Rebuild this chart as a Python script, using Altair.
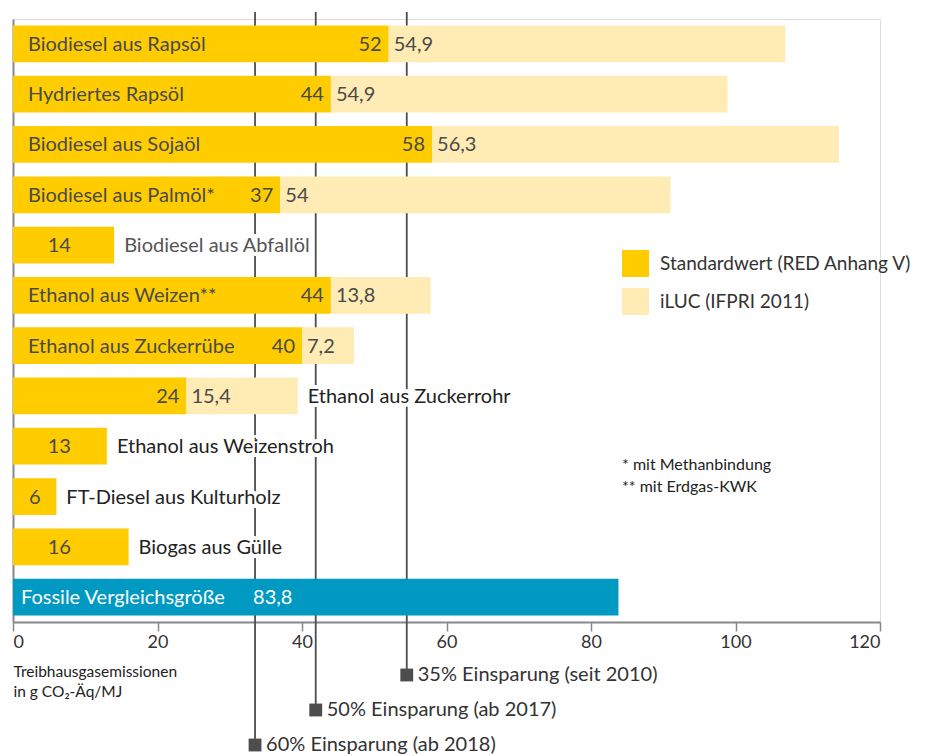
import altair as alt
import pandas as pd

# ---------------- data ----------------
kategorien = [
    "Biodiesel aus Rapsöl", "Hydriertes Rapsöl", "Biodiesel aus Sojaöl",
    "Biodiesel aus Palmöl*", "Biodiesel aus Abfallöl", "Ethanol aus Weizen**",
    "Ethanol aus Zuckerrübe", "Ethanol aus Zuckerrohr", "Ethanol aus Weizenstroh",
    "FT-Diesel aus Kulturholz", "Biogas aus Gülle",
]
standardwerte = [52, 44, 58, 37, 14, 44, 40, 24, 13, 6, 16]
iluc_werte = [54.9, 54.9, 56.3, 54, 0, 13.8, 7.2, 15.4, 0, 0, 0]
fossil_name = "Fossile Vergleichsgröße"
fossil_wert = 83.8
serien = ["Standardwert (RED Anhang V)", "iLUC (IFPRI 2011)"]
schwellen = [54.5, 41.9, 33.5]
schwellen_labels = ["35% Einsparung (seit 2010)", "50% Einsparung (ab 2017)", "60% Einsparung (ab 2018)"]
fussnoten = ["* mit Methanbindung", "** mit Erdgas-KWK"]
x_ticks = [0, 20, 40, 60, 80, 100, 120]
achsentitel = ["Treibhausgasemissionen", "in g CO₂-Äq/MJ"]

# ---------------- styling ----------------
FONT = "Lato"
GELB = "#FFCC00"
HELLGELB = "#FFEBB4"
BLAU = "#0099C2"
TXT = "#4a4a4a"
DUNKEL = "#222222"
FS = 20
alle_kat = kategorien + [fossil_name]


def de(v):
    return f"{v:g}".replace(".", ",")


rows = []
for k, s, i in zip(kategorien, standardwerte, iluc_werte):
    rows.append(dict(kategorie=k, serie=serien[0], start=0, ende=s))
    if i > 0:
        rows.append(dict(kategorie=k, serie=serien[1], start=s, ende=s + i))
bars_df = pd.DataFrame(rows)

lab = pd.DataFrame(dict(kategorie=kategorien, standard=standardwerte, iluc=iluc_werte))
lab["total"] = lab["standard"] + lab["iluc"]
lab["innen"] = lab["standard"] > 30
lab["s_txt"] = lab["standard"].map(de)
lab["i_txt"] = lab["iluc"].map(de)
lab["mitte"] = (lab["standard"] / 2).clip(upper=6.4)

fossil_df = pd.DataFrame(dict(kategorie=[fossil_name], start=[0], ende=[fossil_wert],
                              txt=[de(fossil_wert)]))
schw_df = pd.DataFrame(dict(wert=schwellen, label=schwellen_labels))

y_enc = alt.Y("kategorie:N",
              scale=alt.Scale(domain=alle_kat, paddingInner=0.27, paddingOuter=0.13),
              axis=alt.Axis(labels=False, ticks=False, title=None, domainColor="#888",
                            domainWidth=2))
x_scale = alt.Scale(domain=[0, 120], nice=False)
x_axis = alt.Axis(values=x_ticks, grid=False, domainColor="#888", domainWidth=2,
                  tickColor="#888", tickSize=9, tickWidth=1.5, labelFontSize=18,
                  labelColor="#333", labelPadding=2, labelFont=FONT,
                  title=achsentitel, titleFontSize=15.5, titleFontWeight="normal",
                  titleColor=DUNKEL, titleAnchor="start", titleAlign="left",
                  titleX=0, titleY=42, titleBaseline="top", titleLineHeight=20,
                  titleFont=FONT)

layers = []

# reference lines (behind bars)
enden = [656, 691, 726]
for idx, e in enumerate(enden):
    sub = schw_df.iloc[[idx]]
    layers.append(alt.Chart(sub).mark_rule(color="#4d4d4d", strokeWidth=1.8).encode(
        x=alt.X("wert:Q", scale=x_scale, axis=x_axis), y=alt.value(-7), y2=alt.value(e)))
    layers.append(alt.Chart(sub).mark_square(size=165, color="#4d4d4d", opacity=1).encode(
        x="wert:Q", y=alt.value(e)))
    layers.append(alt.Chart(sub).mark_text(align="left", baseline="middle", dx=11,
                                           fontSize=20, color="#333", font=FONT).encode(
        x="wert:Q", y=alt.value(e), text="label:N"))

# bars
layers.append(alt.Chart(bars_df).mark_bar().encode(
    x=alt.X("start:Q", scale=x_scale, axis=x_axis), x2="ende:Q", y=y_enc,
    color=alt.Color("serie:N", scale=alt.Scale(domain=serien, range=[GELB, HELLGELB]),
                    legend=alt.Legend(title=None, orient="none", legendX=609, legendY=231,
                                      symbolType="square", symbolSize=729,
                                      symbolStrokeWidth=0, symbolOpacity=1,
                                      labelFontSize=19, labelColor="#333", labelFont=FONT,
                                      labelLimit=0, rowPadding=11, labelOffset=11,
                                      padding=0))))
layers.append(alt.Chart(fossil_df).mark_bar(color=BLAU).encode(
    x="start:Q", x2="ende:Q", y=y_enc))

# labels inside bars
innen = alt.Chart(lab).transform_filter("datum.innen")
layers.append(innen.mark_text(align="left", baseline="middle", dx=15, dy=1, fontSize=FS,
                              color=TXT, font=FONT).encode(
    x=alt.datum(0), y=y_enc, text="kategorie:N"))
layers.append(alt.Chart(lab).transform_filter("datum.standard >= 20").mark_text(
    align="right", baseline="middle", dx=-7, dy=1, fontSize=FS, color=TXT, font=FONT).encode(
    x="standard:Q", y=y_enc, text="s_txt:N"))
layers.append(alt.Chart(lab).transform_filter("datum.standard < 20").mark_text(
    align="center", baseline="middle", dy=1, fontSize=FS, color=TXT, font=FONT).encode(
    x="mitte:Q", y=y_enc, text="s_txt:N"))
layers.append(alt.Chart(lab).transform_filter("datum.iluc > 0").mark_text(
    align="left", baseline="middle", dx=5, dy=1, fontSize=FS, color=TXT, font=FONT).encode(
    x="standard:Q", y=y_enc, text="i_txt:N"))

# labels outside bars (with white halo)
aussen = alt.Chart(lab).transform_filter("!datum.innen")
layers.append(aussen.mark_text(align="left", baseline="middle", dx=10, dy=1, fontSize=FS,
                               color="white", stroke="white", strokeWidth=8, font=FONT).encode(
    x="total:Q", y=y_enc, text="kategorie:N"))
layers.append(aussen.mark_text(align="left", baseline="middle", dx=10, dy=1, fontSize=FS,
                               font=FONT).encode(
    x="total:Q", y=y_enc, text="kategorie:N",
    color=alt.condition("datum.iluc == 0 && datum.standard == 14",
                        alt.value("#555"), alt.value(DUNKEL))))

# fossil labels
layers.append(alt.Chart(fossil_df).mark_text(align="left", baseline="middle", dx=8, dy=1,
                                             fontSize=FS, color="white", font=FONT).encode(
    x=alt.datum(0), y=y_enc, text="kategorie:N"))
layers.append(alt.Chart(fossil_df).mark_text(align="left", baseline="middle", dx=-2, dy=1,
                                             fontSize=FS, color="white", font=FONT).encode(
    x=alt.datum(schwellen[2]), y=y_enc, text="txt:N"))

# footnotes
for j, (t, yy) in enumerate(zip(fussnoten, [446, 468])):
    layers.append(alt.Chart(pd.DataFrame(dict(t=[t]))).mark_text(
        align="left", baseline="middle", fontSize=16, color=DUNKEL, font=FONT).encode(
        x=alt.value(609), y=alt.value(yy), text="t:N"))

chart = alt.layer(*layers).properties(
    width=867, height=603,
    autosize=alt.AutoSizeParams(type="none"),
    padding={"left": 5, "top": 11, "right": 40, "bottom": 133},
).configure_view(stroke=None).configure(font=FONT)

chart.save("out.html", embed_options={"renderer": "svg", "actions": False})
